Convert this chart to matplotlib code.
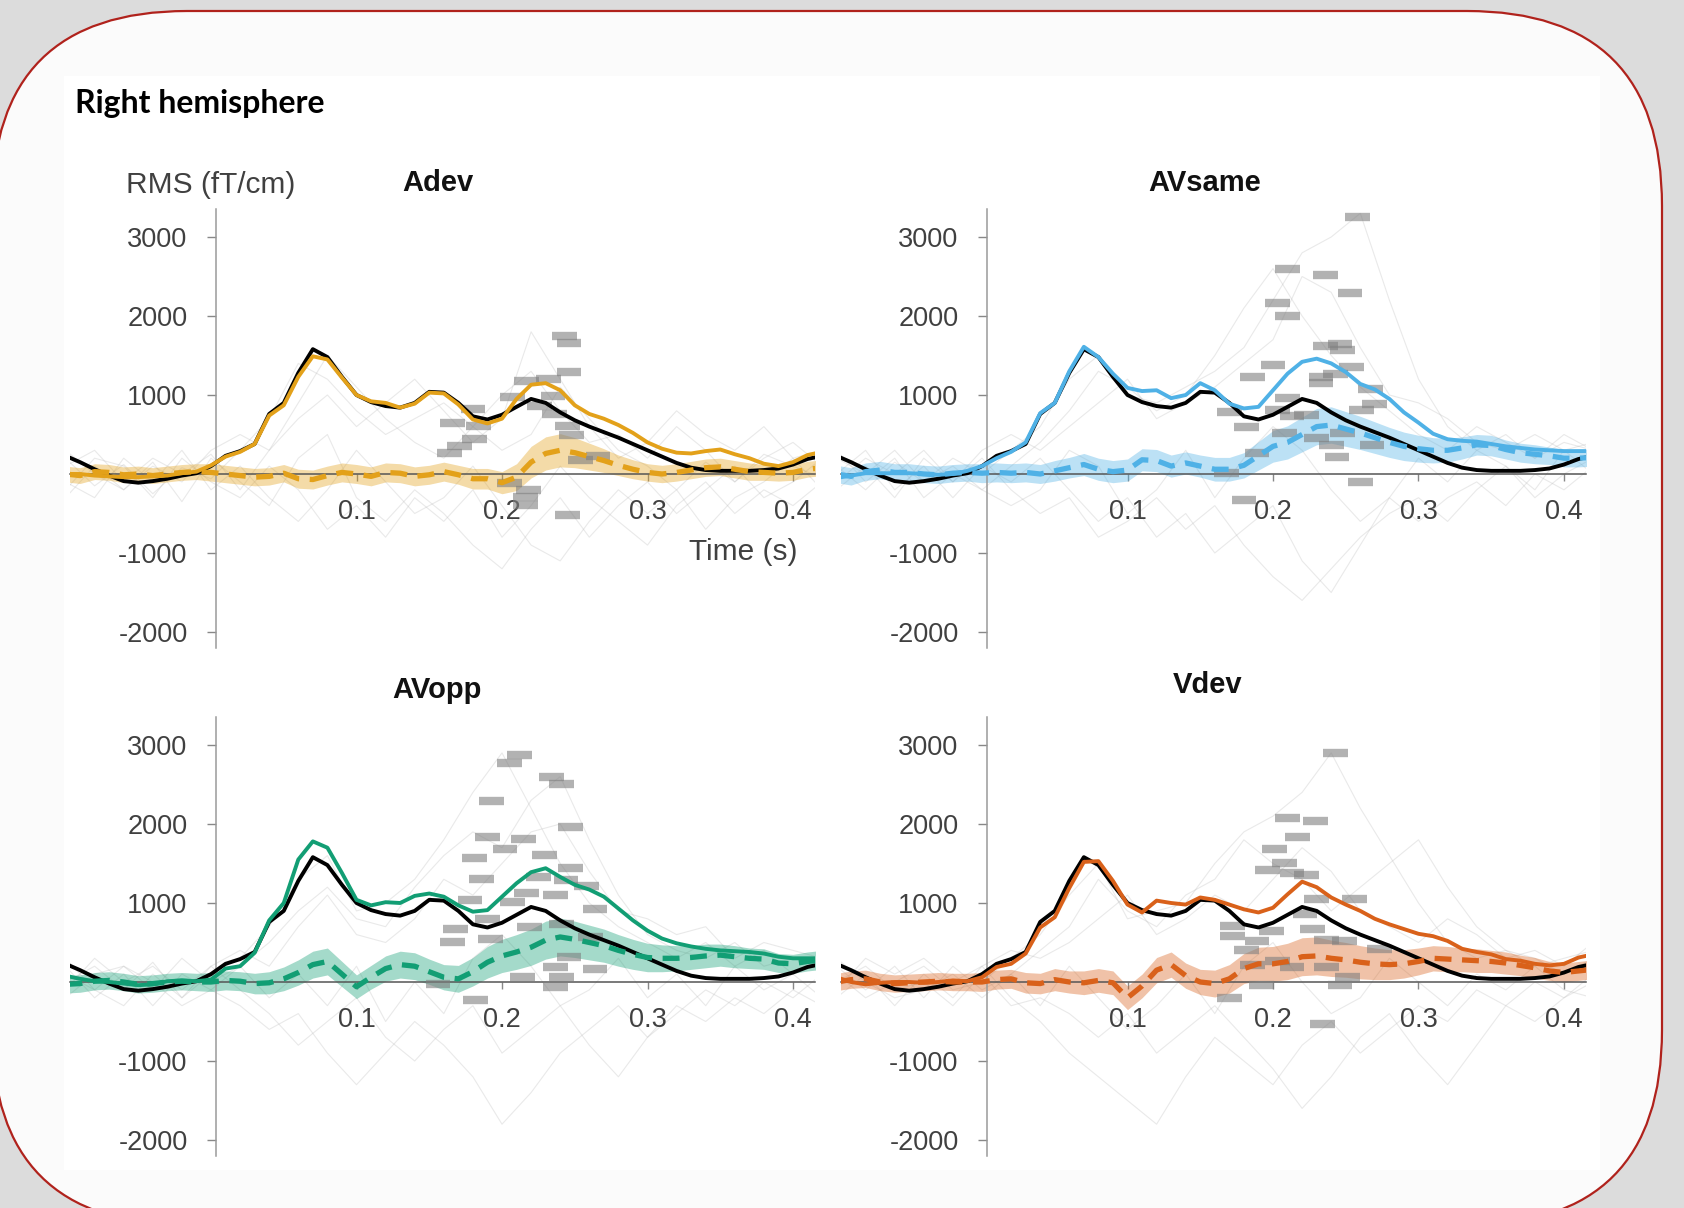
import numpy as np
import matplotlib
matplotlib.use("Agg")
import matplotlib.pyplot as plt
from matplotlib.patches import FancyBboxPatch, Rectangle
from matplotlib.transforms import IdentityTransform

# time grids (s)
t = np.round(np.linspace(-0.10, 0.42, 53), 3)
t_single = np.round(np.linspace(-0.10, 0.42, 27), 3)

# grand-average RMS of the standard response (same in every panel)
standard_rms = [230, 150, 60, -20, -90, -110, -90, -60, -20, 10,
                100, 230, 290, 380, 760, 900, 1280, 1580, 1480, 1230,
                1000, 910, 860, 840, 900, 1040, 1030, 900, 730, 690,
                750, 850, 950, 900, 780, 680, 600, 530, 460, 380,
                300, 220, 140, 80, 50, 40, 40, 40, 50, 70,
                120, 190, 230]

adev_rms = [0, 0, -20, -30, -40, -40, -30, -20, 10, 30,
            110, 220, 280, 380, 740, 870, 1230, 1490, 1450, 1220,
            1000, 920, 900, 840, 890, 1030, 1020, 880, 690, 640,
            700, 950, 1130, 1150, 1060, 870, 760, 700, 620, 520,
            400, 320, 270, 260, 290, 310, 250, 200, 130, 100,
            150, 240, 280]
adev_diff = [0, -20, 30, 20, -10, 0, -20, 0, 20, 30,
             20, 0, -20, -40, -30, 10, -60, -70, -20, 20,
             0, -30, 20, 10, -30, -10, 30, -10, -60, -60,
             -110, -40, 150, 260, 300, 270, 220, 170, 110, 60,
             20, 0, 20, 50, 80, 90, 60, 30, 20, 10,
             20, 60, 80]
adev_ci = [100, 100, 100, 100, 100, 100, 100, 100, 100, 100,
           110, 110, 110, 110, 110, 110, 120, 120, 120, 120,
           120, 120, 120, 120, 120, 120, 120, 120, 130, 130,
           140, 170, 200, 210, 210, 190, 170, 150, 130, 120,
           110, 110, 110, 110, 110, 110, 110, 110, 100, 100,
           100, 100, 100]

avsame_rms = [-50, -20, 10, 10, 10, 10, 0, -10, 0, 40,
              100, 200, 280, 400, 770, 900, 1300, 1610, 1480, 1270,
              1090, 1050, 1060, 960, 1000, 1150, 1060, 890, 830, 850,
              1060, 1270, 1420, 1460, 1400, 1290, 1140, 1070, 950, 780,
              650, 510, 440, 420, 410, 380, 350, 330, 310, 300,
              290, 290, 290]
avsame_diff = [0, -30, 30, 50, 20, 20, 0, -10, 10, 20,
               10, 20, 10, 20, 0, 40, 80, 120, 60, 30,
               50, 180, 170, 100, 140, 100, 60, 60, 110, 230,
               350, 400, 500, 600, 620, 570, 520, 460, 400, 350,
               320, 300, 300, 330, 370, 360, 310, 270, 250, 230,
               200, 200, 210]
avsame_ci = [110, 110, 110, 110, 110, 110, 110, 110, 110, 110,
             120, 120, 120, 120, 120, 130, 130, 140, 140, 140,
             140, 140, 140, 140, 140, 140, 150, 150, 160, 180,
             200, 210, 220, 230, 230, 220, 210, 200, 190, 180,
             170, 160, 150, 140, 130, 130, 120, 120, 120, 110,
             110, 110, 110]

avopp_rms = [80, 40, 10, 0, -20, -40, -30, 10, 20, 10,
             30, 170, 200, 370, 780, 1000, 1550, 1780, 1700, 1380,
             1040, 970, 1010, 1000, 1090, 1120, 1080, 970, 890, 910,
             1080, 1250, 1390, 1440, 1330, 1230, 1170, 1080, 930, 780,
             650, 550, 490, 450, 420, 400, 390, 380, 360, 320,
             300, 300, 300]
avopp_diff = [-30, -20, 10, 20, 0, -30, -20, 0, 10, 0,
              0, 20, 10, -20, -10, 40, 120, 220, 260, 100,
              -60, 60, 170, 220, 200, 130, 60, 40, 130, 250,
              330, 380, 440, 530, 570, 540, 500, 460, 400, 350,
              310, 300, 300, 310, 330, 340, 320, 300, 290, 240,
              230, 260, 280]
avopp_ci = [110, 110, 110, 110, 110, 110, 110, 110, 110, 110,
            120, 120, 120, 130, 140, 150, 160, 170, 170, 160,
            150, 150, 160, 170, 170, 160, 160, 170, 180, 200,
            210, 220, 230, 240, 240, 230, 220, 210, 200, 190,
            180, 170, 160, 150, 150, 140, 140, 130, 130, 120,
            120, 120, 120]

vdev_rms = [60, 0, -30, -10, 0, 0, -10, 0, 20, 10,
            60, 190, 230, 360, 690, 820, 1190, 1520, 1530, 1280,
            980, 880, 1030, 1000, 980, 1070, 1040, 980, 920, 880,
            940, 1110, 1270, 1200, 1070, 980, 900, 800, 730, 670,
            610, 580, 520, 420, 380, 350, 290, 270, 230, 210,
            230, 310, 350]
vdev_diff = [0, 30, 40, 0, -20, -10, 0, 10, 0, 0,
             0, 30, 40, -10, -20, 30, 0, -10, 20, -10,
             -200, -50, 150, 220, 80, 0, -20, 40, 170, 230,
             230, 260, 320, 330, 300, 280, 250, 230, 220, 230,
             260, 300, 290, 280, 270, 260, 240, 210, 180, 140,
             120, 140, 160]
vdev_ci = [110, 110, 110, 110, 110, 110, 110, 110, 110, 110,
           120, 120, 120, 130, 130, 140, 140, 150, 150, 150,
           150, 150, 160, 160, 160, 160, 170, 180, 190, 210,
           220, 230, 240, 240, 230, 220, 210, 200, 190, 180,
           170, 160, 160, 150, 150, 140, 140, 130, 130, 120,
           120, 120, 120]

# single-subject difference traces
adev_subjects = [
    [200, -150, 120, -250, 80, -60, 300, 700, 1400, 1200, 800, 500, 700, 900, 600, 300, 500, 1100, 700, 300, 100, -200, 150, -100, 250, 100, -50],
    [-300, 100, -200, 150, -350, 200, -100, -400, 200, 500, -300, -600, -200, -500, -900, -1200, -700, -300, -800, -400, -100, -500, -200, 100, -300, -100, 200],
    [100, 300, -100, 200, 0, 250, -200, 300, 900, 1500, 1100, 700, 400, 200, 600, 1000, 1300, 800, 400, 500, 200, 600, 300, -100, 200, 400, 100],
    [-100, -300, 200, -100, 300, -200, 100, -300, -600, -200, 300, -100, -500, -300, 100, -400, -900, -1100, -600, -200, -500, -200, -700, -300, -100, 200, -200],
    [300, 0, -200, 100, -100, 300, 500, 300, 700, 1000, 600, 900, 1200, 800, 400, 700, 1800, 1200, 600, 200, 400, 800, 500, 300, 600, 200, 300],
    [-200, 200, 100, -300, 200, -100, -300, 100, -200, -700, -400, -800, -300, -600, -200, -800, -400, 100, -300, -600, -900, -400, -100, -500, -200, -400, -100],
]
avsame_subjects = [
    [100, -200, 150, -100, 200, 0, 300, 600, 1200, 1500, 1000, 900, 1100, 1300, 1600, 2200, 2800, 3000, 3300, 2200, 1200, 600, 300, 500, 200, 400, 300],
    [-200, 100, -300, 200, -100, 200, -200, -500, -300, -800, -600, -300, -700, -400, -900, -1300, -1600, -1200, -800, -500, -300, -600, -200, 100, -300, 0, 200],
    [200, 0, 300, -100, 100, -200, 100, 400, 800, 1300, 1100, 800, 1000, 1500, 2100, 2600, 2000, 1500, 1100, 800, 500, 300, 600, 400, 200, 500, 300],
    [0, 300, -200, 100, -300, 100, -100, 200, -200, -600, -300, -800, -500, -1000, -700, -400, -1100, -1500, -900, -300, -600, -300, -100, -400, 0, -200, 100],
    [-100, 200, 0, 300, -100, 300, 500, 300, 600, 900, 1200, 700, 900, 1100, 1400, 1700, 2500, 2300, 1600, 1000, 900, 700, 400, 300, 500, 300, 400],
    [300, -100, 200, -300, 0, -200, -400, -200, 300, 100, -500, -200, 300, -300, 200, 600, 300, -200, -600, -300, 200, -100, 300, 100, -200, 300, 0],
]
avopp_subjects = [
    [0, 200, -100, 250, -200, 100, 300, 700, 1300, 1600, 900, 1000, 1300, 1800, 2400, 2900, 2200, 1500, 1000, 700, 500, 300, 500, 200, 400, 100, 300],
    [200, -200, 100, -300, 100, -100, -300, -600, -400, -900, -1300, -900, -500, -800, -1200, -1800, -1400, -900, -600, -300, -700, -400, -100, -300, 0, -200, 100],
    [-200, 100, 200, -100, 300, 0, 200, 500, 900, 1200, 800, 700, 1200, 1600, 1900, 1700, 2300, 2600, 1800, 1100, 600, 400, 300, 500, 200, 300, 200],
    [100, -100, -300, 100, -200, 200, -100, -400, -800, -500, -200, -700, -1000, -600, -300, -900, -600, -300, -800, -1200, -700, -300, -500, -200, -400, -100, -300],
    [-100, 300, 0, 200, -100, 200, 400, 200, 700, 1100, 600, 500, 800, 1300, 1100, 1500, 1900, 2000, 1400, 900, 800, 600, 700, 300, 500, 400, 300],
    [300, -100, 200, 0, -300, -100, 200, -200, 100, -300, 200, -500, 0, -400, 300, 600, 200, -300, -100, 300, -200, 100, -300, 200, -100, 100, -200],
]
vdev_subjects = [
    [100, -200, 0, 200, -100, 0, 300, 600, 1100, 1500, 800, 900, 1000, 1500, 1900, 2100, 2400, 2900, 2200, 1600, 1000, 500, 300, 400, 200, 300, 400],
    [-200, 100, -300, 100, -200, 200, -200, -500, -900, -1200, -1500, -1800, -1200, -700, -1000, -1300, -800, -500, -900, -600, -300, -500, -100, -300, 0, -200, 100],
    [200, -100, 200, -200, 200, -100, 100, 400, 700, 1300, 900, 700, 1100, 1300, 1800, 1500, 1300, 900, 1200, 1500, 1800, 1200, 700, 400, 300, 100, 300],
    [0, 200, -100, 0, -300, 100, -300, -200, -400, -700, -400, -900, -600, -300, -700, -1100, -1600, -1200, -700, -400, -900, -1300, -800, -300, -500, -200, 0],
    [-100, 300, 100, 300, 0, 200, 400, 300, 500, 800, 1100, 600, 800, 1100, 900, 1300, 1700, 1400, 900, 700, 500, 800, 600, 300, 400, 200, 500],
    [300, 0, -200, -100, 100, -200, 100, -300, 200, -200, -600, -300, 100, -400, 200, 500, 0, -400, -200, 300, 0, -300, 100, -100, 200, -100, -200],
]

# individual peak latency / amplitude markers
adev_peak_t = [0.243, 0.246, 0.246, 0.232, 0.217, 0.207, 0.235, 0.226, 0.180, 0.236, 0.166, 0.184,
               0.245, 0.248, 0.181, 0.171, 0.164, 0.266, 0.254, 0.205, 0.218, 0.216, 0.216, 0.245]
adev_peak_v = [1750, 1660, 1290, 1200, 1180, 970, 990, 865, 820, 760, 650, 610,
               610, 500, 440, 355, 270, 225, 180, -115, -200, -285, -390, -520]
avsame_peak_t = [0.258, 0.210, 0.236, 0.253, 0.203, 0.210, 0.236, 0.246, 0.248, 0.200, 0.254, 0.186,
                 0.233, 0.243, 0.233, 0.267, 0.210, 0.170, 0.203, 0.213, 0.270, 0.261, 0.182, 0.223,
                 0.208, 0.248, 0.230, 0.268, 0.240, 0.189, 0.244, 0.168, 0.180, 0.260]
avsame_peak_v = [3250, 2590, 2520, 2290, 2160, 2000, 1615, 1640, 1575, 1385, 1360, 1230,
                 1230, 1260, 1150, 1070, 960, 790, 815, 730, 880, 815, 600, 750,
                 520, 520, 455, 370, 370, 265, 210, 10, -325, -95]
avopp_peak_t = [0.212, 0.205, 0.234, 0.241, 0.193, 0.247, 0.190, 0.215, 0.202, 0.229, 0.181, 0.247,
                0.186, 0.225, 0.244, 0.258, 0.217, 0.237, 0.178, 0.207, 0.264, 0.190, 0.168, 0.219,
                0.241, 0.166, 0.192, 0.261, 0.246, 0.237, 0.264, 0.214, 0.241, 0.156, 0.237, 0.182]
avopp_peak_v = [2875, 2770, 2600, 2510, 2295, 1965, 1840, 1810, 1680, 1605, 1565, 1440,
                1300, 1330, 1290, 1220, 1130, 1100, 1035, 1015, 930, 800, 670, 700,
                740, 510, 550, 570, 320, 190, 170, 65, 65, -20, -60, -230]
vdev_peak_t = [0.243, 0.210, 0.229, 0.217, 0.201, 0.208, 0.196, 0.213, 0.223, 0.256, 0.230, 0.222,
               0.227, 0.199, 0.172, 0.172, 0.189, 0.249, 0.273, 0.182, 0.237, 0.203, 0.186, 0.213,
               0.237, 0.251, 0.192, 0.246, 0.170, 0.234]
vdev_peak_v = [2900, 2080, 2040, 1840, 1680, 1505, 1420, 1380, 1360, 1045, 1045, 860,
               670, 650, 710, 580, 520, 520, 420, 405, 530, 270, 210, 190,
               190, 60, -40, -40, -200, -535]

conditions = ["Adev", "AVsame", "AVopp", "Vdev"]
colors = ["#E3A11A", "#4FB1E6", "#129E74", "#D9611A"]

W, H = 1684, 1208
fig = plt.figure(figsize=(W / 100, H / 100), dpi=100, facecolor="#dcdcdc")

# slide frame
frame = FancyBboxPatch((-8, H - 1225), 1670, 1214,
                       boxstyle="round,pad=0,rounding_size=195",
                       transform=IdentityTransform(), facecolor="#fbfbfb",
                       edgecolor="#b0221c", linewidth=1.6, zorder=0)
fig.add_artist(frame)
fig.add_artist(Rectangle((64, H - 1170), 1536, 1094, transform=IdentityTransform(),
                         facecolor="white", edgecolor="none", zorder=0))


def fx(px):
    return px / W


def fy(py):
    return 1 - py / H


fig.text(fx(75), fy(113), "Right hemisphere", fontsize=23, fontweight="bold",
         family="Lato", color="black", va="baseline", ha="left")

XMIN, XMAX = -0.097, 0.415
YMIN, YMAX = -2200, 3350
XS = 1455      # px per second
YS = 0.079     # px per fT/cm
origins = [(211, 474), (982, 474), (211, 982), (982, 982)]
title_pos = [(438, 183), (1205, 183), (437, 690), (1208, 685)]

panels = [
    (adev_rms, adev_diff, adev_ci, adev_subjects, adev_peak_t, adev_peak_v),
    (avsame_rms, avsame_diff, avsame_ci, avsame_subjects, avsame_peak_t, avsame_peak_v),
    (avopp_rms, avopp_diff, avopp_ci, avopp_subjects, avopp_peak_t, avopp_peak_v),
    (vdev_rms, vdev_diff, vdev_ci, vdev_subjects, vdev_peak_t, vdev_peak_v),
]

for i, (rms, diff, ci, subjects, pk_t, pk_v) in enumerate(panels):
    x0, y0 = origins[i]
    left = x0 + XMIN * XS
    right = x0 + XMAX * XS
    top = y0 - YMAX * YS
    bottom = y0 - YMIN * YS
    ax = fig.add_axes([fx(left), fy(bottom), (right - left) / W, (bottom - top) / H])
    ax.patch.set_alpha(0)
    ax.set_xlim(XMIN, XMAX)
    ax.set_ylim(YMIN, YMAX)

    col = colors[i]
    for s in subjects:
        ax.plot(t_single, s, color="#b8b8b8", lw=0.8, alpha=0.3, zorder=1)

    diff = np.array(diff)
    ci = np.array(ci)
    ax.fill_between(t, diff - ci, diff + ci, color=col, alpha=0.38, lw=0, zorder=2)
    ax.hlines(pk_v, np.array(pk_t) - 0.0085, np.array(pk_t) + 0.0085,
              color="#7f7f7f", lw=6, alpha=0.6, zorder=3)
    ax.plot(t, standard_rms, color="black", lw=2.8, zorder=4,
            solid_capstyle="round", solid_joinstyle="round")
    ax.plot(t, rms, color=col, lw=2.8, zorder=5,
            solid_capstyle="round", solid_joinstyle="round")
    ax.plot(t, diff, color=col, lw=3.8, ls=(0, (3.2, 2.0)), zorder=6)

    ax.spines["top"].set_visible(False)
    ax.spines["right"].set_visible(False)
    ax.spines["left"].set_position(("data", 0.0035))
    ax.spines["bottom"].set_position(("data", 0))
    ax.spines["left"].set_color("#9a9a9a")
    ax.spines["bottom"].set_color("#555555")
    ax.spines["left"].set_linewidth(1.1)
    ax.spines["bottom"].set_linewidth(1.1)

    ax.set_xticks([0.1, 0.2, 0.3, 0.4])
    ax.set_xticklabels(["0.1", "0.2", "0.3", "0.4"])
    ax.set_yticks([-2000, -1000, 1000, 2000, 3000])
    ax.set_yticklabels(["-2000", "-1000", "1000", "2000", "3000"])
    ax.tick_params(axis="x", direction="out", length=5, width=1, color="#888888",
                   pad=13, labelsize=19.5, labelcolor="#404040")
    ax.tick_params(axis="y", direction="out", length=6.5, width=1, color="#888888",
                   pad=14, labelsize=19.5, labelcolor="#404040")
    for lab in ax.get_xticklabels() + ax.get_yticklabels():
        lab.set_family("Liberation Sans")

    tx, ty = title_pos[i]
    fig.text(fx(tx), fy(ty), conditions[i], fontsize=21, fontweight="bold",
             family="Liberation Sans", ha="center", va="center", color="#111111")

fig.text(fx(211), fy(185), "RMS (fT/cm)", fontsize=21.5, family="Liberation Sans",
         color="#404040", ha="center", va="center")
fig.text(fx(743), fy(552), "Time (s)", fontsize=21.5, family="Liberation Sans",
         color="#404040", ha="center", va="center")

fig.savefig("out.png", dpi=100, facecolor=fig.get_facecolor())
